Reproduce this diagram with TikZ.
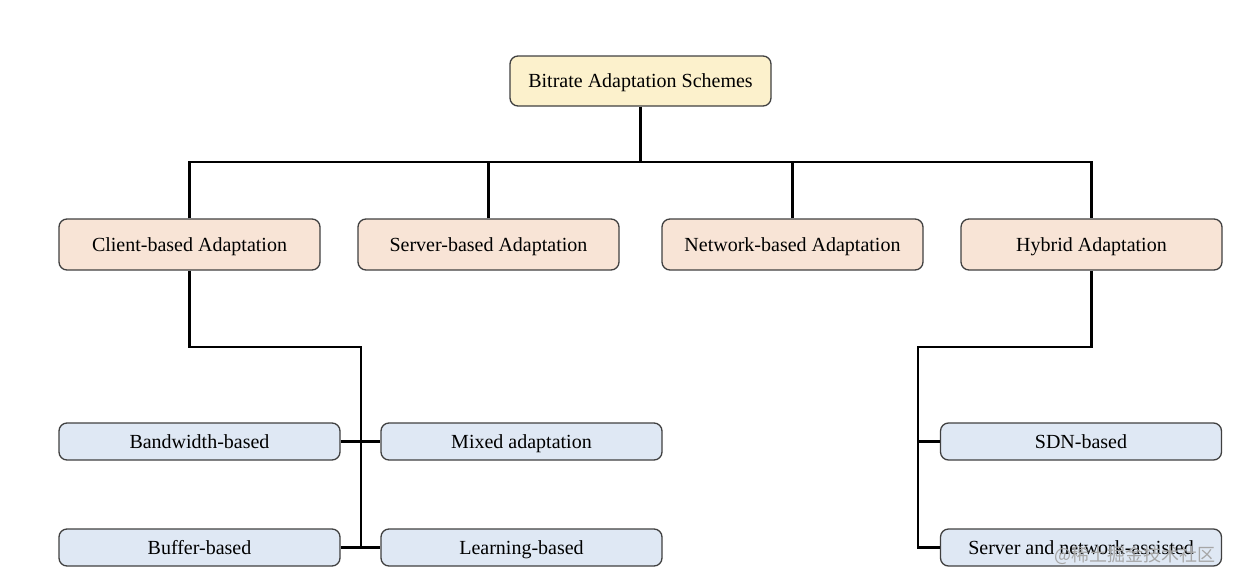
\documentclass[tikz,border=0pt]{standalone}
\usepackage{fontspec}
\setmainfont{Liberation Serif}
\newfontfamily\cjkfont{Noto Sans CJK SC}
\definecolor{rootfill}{HTML}{FCF1CC}
\definecolor{midfill}{HTML}{F8E4D6}
\definecolor{leaffill}{HTML}{DFE8F4}
\definecolor{boxline}{HTML}{404040}
\begin{document}
\begin{tikzpicture}[x=1pt,y=-1pt,
  box/.style={draw=boxline, line width=1.3pt, rounded corners=8pt, align=center, inner sep=0pt,
    text height=15pt, text depth=2pt, font=\fontsize{20}{22}\selectfont},
  rootbox/.style={box, fill=rootfill, minimum width=261pt, minimum height=50pt},
  midbox/.style={box, fill=midfill, minimum width=261pt, minimum height=51pt},
  leafbox/.style={box, fill=leaffill, minimum width=281pt, minimum height=37pt},
  link/.style={draw=black, line width=2.6pt}]
\useasboundingbox (0,0) rectangle (1237,584);
% coordinates
\coordinate (bus) at (640.5,162);
\coordinate (cjoin) at (361,347);
\coordinate (hjoin) at (918,347);
% nodes
\node[rootbox] (root) at (640.5,81) {Bitrate Adaptation Schemes};
\node[midbox] (client) at (189.5,244.5) {Client-based Adaptation};
\node[midbox] (server) at (488.5,244.5) {Server-based Adaptation};
\node[midbox] (network) at (792.5,244.5) {Network-based Adaptation};
\node[midbox] (hybrid) at (1091.5,244.5) {Hybrid Adaptation};
\node[leafbox] (bw) at (199.5,441.5) {Bandwidth-based};
\node[leafbox] (mixed) at (521.5,441.5) {Mixed adaptation};
\node[leafbox] (buffer) at (199.5,547.5) {Buffer-based};
\node[leafbox] (learn) at (521.5,547.5) {Learning-based};
\node[leafbox] (sdn) at (1081,441.5) {SDN-based};
\node[leafbox] (sna) at (1081,547.5) {Server and network-assisted};
% connectors
\path[link] (root.south) -- (bus);
\path[link] (client.north) |- (bus) -| (hybrid.north);
\path[link] (server.north) -- (server.north |- bus);
\path[link] (network.north) -- (network.north |- bus);
\path[link] (client.south) |- (cjoin) -- (cjoin |- buffer.east);
\path[link] (bw.east) -- (mixed.west);
\path[link] (buffer.east) -- (learn.west);
\path[link] (hybrid.south) |- (hjoin) -- (hjoin |- sna.west) -- (sna.west);
\path[link] (hjoin |- sdn.west) -- (sdn.west);
% watermark
\node[text=black!35, font=\cjkfont\fontsize{18}{20}\selectfont, anchor=east] (wm) at (1219,555) {@稀土掘金技术社区};
\end{tikzpicture}
\end{document}
